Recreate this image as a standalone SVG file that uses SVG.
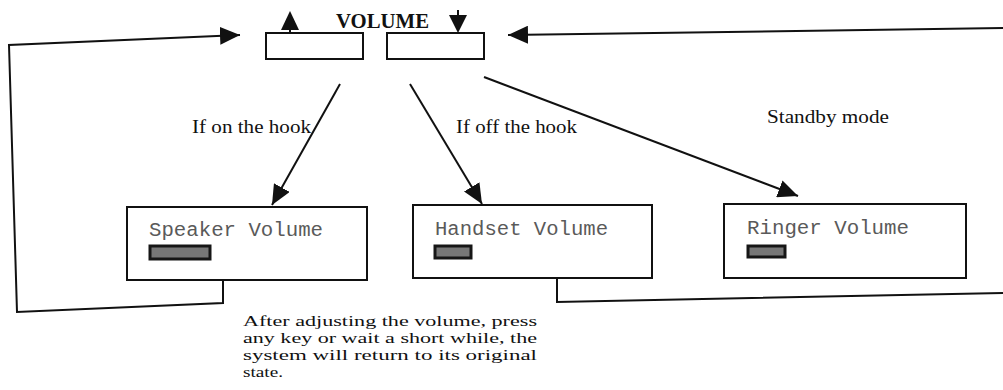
<svg xmlns="http://www.w3.org/2000/svg" width="1003" height="390" viewBox="0 0 1003 390">
<defs>
<marker id="ah" markerUnits="userSpaceOnUse" markerWidth="22" markerHeight="18" refX="20" refY="9" orient="auto">
<path d="M0,0 L20,9 L0,18 z" fill="#111"/>
</marker>
<style>
.box{fill:#fff;stroke:#111;stroke-width:2}
.ln{fill:none;stroke:#111;stroke-width:2}
.mono{font-family:"Liberation Mono","Courier New",monospace;font-size:20px;fill:#5a5a5a}
.serif{font-family:"Liberation Serif","Times New Roman",serif;font-size:18.5px;fill:#111}
.para{font-family:"Liberation Serif","Times New Roman",serif;font-size:15px;fill:#111}
.bar{fill:#777;stroke:#161616;stroke-width:3}
</style>
</defs>
<rect width="1003" height="390" fill="#fff"/>

<g id="volume">
<text x="336" y="28" font-family="Liberation Serif, Times New Roman, serif" font-weight="bold" font-size="20" fill="#111" textLength="93" lengthAdjust="spacingAndGlyphs">VOLUME</text>
</g>
<g id="up-key">
<rect class="box" x="266" y="33" width="97" height="26"/>
<path d="M290,29 V33" class="ln"/>
<path d="M290,11 L299,30 L281,30 z" fill="#111"/>
</g>
<g id="down-key">
<rect class="box" x="387" y="33" width="97" height="26"/>
<path d="M458,10 V16" class="ln"/>
<path d="M449,15 L467,15 L458,33 z" fill="#111"/>
</g>

<g id="speaker">
<rect class="box" x="127" y="207" width="240" height="73"/>
<text class="mono" x="149" y="236" textLength="174" lengthAdjust="spacingAndGlyphs">Speaker Volume</text>
<rect class="bar" x="150" y="246" width="60" height="13"/>
</g>
<g id="handset">
<rect class="box" x="413" y="205" width="239" height="73"/>
<text class="mono" x="435" y="235" textLength="173" lengthAdjust="spacingAndGlyphs">Handset Volume</text>
<rect class="bar" x="435" y="246" width="36" height="12"/>
</g>
<g id="ringer">
<rect class="box" x="724" y="204" width="242" height="74"/>
<text class="mono" x="747" y="234" textLength="162" lengthAdjust="spacingAndGlyphs">Ringer Volume</text>
<rect class="bar" x="748" y="246" width="37" height="11"/>
</g>

<g id="connectors">
<path class="ln" d="M223,280 V303 L17,312 L9,45 L240,35" marker-end="url(#ah)"/>
<path class="ln" d="M557,278 V302 L1003,293"/>
<path class="ln" d="M1003,28 L508,35" marker-end="url(#ah)"/>
<path class="ln" d="M340,84 L272,205" marker-end="url(#ah)"/>
<path class="ln" d="M410,84 L482,204" marker-end="url(#ah)"/>
<path class="ln" d="M484,77 L798,196" marker-end="url(#ah)"/>
</g>

<g id="labels">
<text class="serif" x="192" y="133" textLength="119" lengthAdjust="spacingAndGlyphs">If on the hook</text>
<text class="serif" x="456" y="133" textLength="121" lengthAdjust="spacingAndGlyphs">If off the hook</text>
<text class="serif" x="767" y="123" textLength="122" lengthAdjust="spacingAndGlyphs">Standby mode</text>
<text class="para" x="243" y="326" textLength="294" lengthAdjust="spacingAndGlyphs">After adjusting the volume, press</text>
<text class="para" x="243" y="343" textLength="294" lengthAdjust="spacingAndGlyphs">any key or wait a short while, the</text>
<text class="para" x="243" y="360" textLength="294" lengthAdjust="spacingAndGlyphs">system will return to its original</text>
<text class="para" x="243" y="377" textLength="40" lengthAdjust="spacingAndGlyphs">state.</text>
</g>
</svg>
